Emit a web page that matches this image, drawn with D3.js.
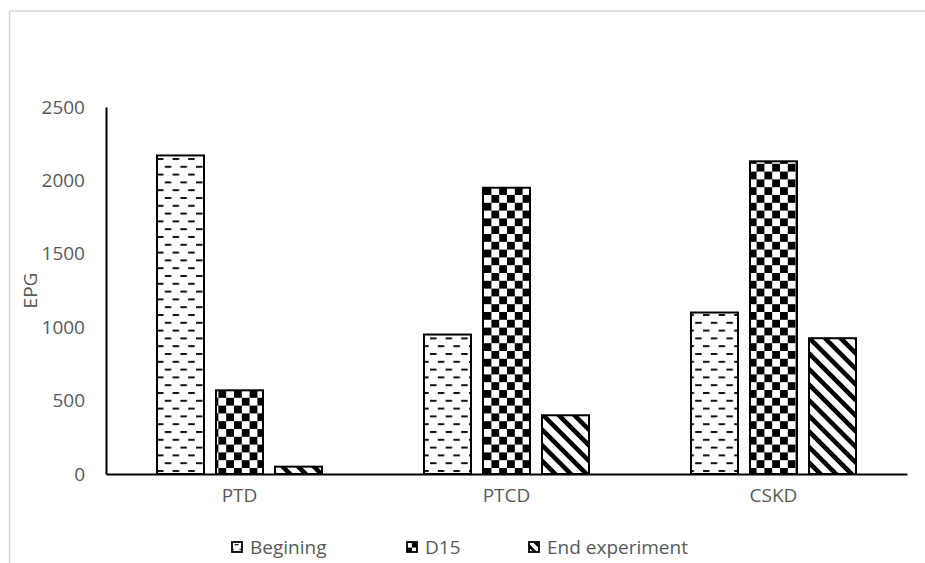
<!DOCTYPE html>
<html>
<head>
<meta charset="utf-8">
<script src="https://cdn.jsdelivr.net/npm/d3@7"></script>
<style>
  html, body { margin: 0; padding: 0; background: #fff; }
  svg { display: block; }
  text { font-family: "Open Sans", "Noto Sans", sans-serif; fill: #595959; }
</style>
</head>
<body>
<svg id="chart" width="925" height="563"></svg>
<script>
const categories = ["PTD", "PTCD", "CSKD"];
const seriesNames = ["Begining", "D15", "End experiment"];
const begining = [2170, 950, 1100];
const d15 = [570, 1950, 2130];
const endExperiment = [50, 400, 925];
const yTicks = [0, 500, 1000, 1500, 2000, 2500];
const yLabel = "EPG";

const seriesValues = [begining, d15, endExperiment];
const patternIds = ["pDash", "pCheck", "pDiag"];

const svg = d3.select("#chart");
const defs = svg.append("defs");

function makeDash(id, s) {
  const p = defs.append("pattern").attr("id", id).attr("patternUnits", "userSpaceOnUse")
    .attr("width", 15.6 * s).attr("height", 15.6 * s).attr("x", 0).attr("y", 2 * s);
  p.append("rect").attr("width", 15.6 * s).attr("height", 15.6 * s).attr("fill", "#fff");
  p.append("rect").attr("x", 1 * s).attr("y", 0).attr("width", 6.5 * s).attr("height", 2 * s).attr("fill", "#111");
  p.append("rect").attr("x", 8.8 * s).attr("y", 7.8 * s).attr("width", 6.5 * s).attr("height", 2 * s).attr("fill", "#111");
}
function makeCheck(id, s) {
  const p = defs.append("pattern").attr("id", id).attr("patternUnits", "userSpaceOnUse")
    .attr("width", 15.6 * s).attr("height", 15.6 * s);
  p.append("rect").attr("width", 15.6 * s).attr("height", 15.6 * s).attr("fill", "#fff");
  p.append("rect").attr("x", 0).attr("y", 0).attr("width", 7.8 * s).attr("height", 7.8 * s).attr("fill", "#000");
  p.append("rect").attr("x", 7.8 * s).attr("y", 7.8 * s).attr("width", 7.8 * s).attr("height", 7.8 * s).attr("fill", "#000");
}
function makeDiag(id, s) {
  const w = 11.03 * s;
  const p = defs.append("pattern").attr("id", id).attr("patternUnits", "userSpaceOnUse")
    .attr("width", w).attr("height", w).attr("patternTransform", "rotate(-45)");
  p.append("rect").attr("width", w).attr("height", w).attr("fill", "#fff");
  p.append("rect").attr("x", 0).attr("y", 0).attr("width", 4.6 * s).attr("height", w).attr("fill", "#000");
}
makeDash("pDash", 1); makeCheck("pCheck", 1); makeDiag("pDiag", 1);
makeDash("lDash", 0.6); makeCheck("lCheck", 0.6); makeDiag("lDiag", 0.6);
const legendPatternIds = ["lDash", "lCheck", "lDiag"];

// chart border
svg.append("path").attr("d", "M9.5,563 L9.5,11 L925,11")
  .attr("fill", "none").attr("stroke", "#d9d9d9").attr("stroke-width", 1.5);

const plotLeft = 106, plotRight = 907, plotTop = 107, plotBottom = 474;

const y = d3.scaleLinear().domain([0, 2500]).range([plotBottom, plotTop]);
const x0 = d3.scaleBand().domain(categories).range([plotLeft, plotRight]).paddingInner(0).paddingOuter(0);
const groupW = 165;
const x1 = d3.scaleBand().domain(seriesNames).range([0, groupW]).paddingInner(12 / 59).paddingOuter(0);
const groupOff = (x0.bandwidth() - groupW) / 2;

// bars
seriesNames.forEach((s, si) => {
  svg.append("g").selectAll("rect")
    .data(categories.map((c, ci) => ({ c, v: seriesValues[si][ci] })))
    .join("rect")
    .attr("x", d => x0(d.c) + groupOff + x1(s))
    .attr("y", d => y(d.v))
    .attr("width", x1.bandwidth())
    .attr("height", d => y(0) - y(d.v))
    .attr("fill", `url(#${patternIds[si]})`)
    .attr("stroke", "#000")
    .attr("stroke-width", 2);
});

// y axis
const yAxis = d3.axisLeft(y).tickValues(yTicks).tickSize(0).tickPadding(21).tickFormat(d3.format("d"));
const gy = svg.append("g").attr("transform", `translate(${plotLeft},0)`).call(yAxis);
gy.select(".domain").attr("stroke", "#000").attr("stroke-width", 2);
gy.selectAll("text").attr("font-size", 19).attr("fill", "#595959")
  .style("font-family", "'Open Sans', sans-serif");

// x axis
const xAxis = d3.axisBottom(x0).tickSize(0).tickPadding(15);
const gx = svg.append("g").attr("transform", `translate(0,${plotBottom})`).call(xAxis);
gx.select(".domain").attr("stroke", "#000").attr("stroke-width", 2);
gx.selectAll("text").attr("font-size", 19).attr("fill", "#595959")
  .style("font-family", "'Open Sans', sans-serif");

// y label
svg.append("text").attr("transform", `translate(37,${(plotTop + plotBottom) / 2}) rotate(-90)`)
  .attr("text-anchor", "middle").attr("font-size", 19).text(yLabel);

// legend
const legendX = [232, 407, 529];
const lg = svg.append("g");
seriesNames.forEach((s, i) => {
  lg.append("rect").attr("x", legendX[i]).attr("y", 542).attr("width", 10).attr("height", 10)
    .attr("fill", `url(#${legendPatternIds[i]})`).attr("stroke", "#000").attr("stroke-width", 1.8);
  lg.append("text").attr("x", legendX[i] + 18).attr("y", 554).attr("font-size", 19).text(s);
});
</script>
</body>
</html>
